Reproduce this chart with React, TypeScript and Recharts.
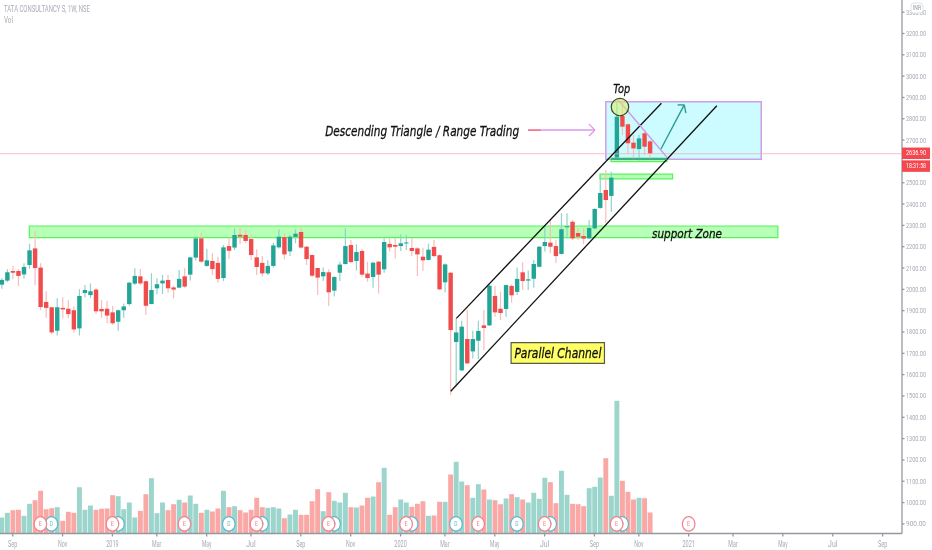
import React from "react";
import { ComposedChart, Bar, XAxis, YAxis, ReferenceArea, ReferenceLine, ReferenceDot } from "recharts";

const opens = [2022,2041,2086,2086,2070,2114,2192,2102,1941,1916,1806,1913,1909,1902,1817,1983,1973,1999,1908,1909,1892,1848,1902,1931,2027,2061,2038,1931,2005,2028,2044,2009,2008,2061,2069,2149,2239,2110,2133,2124,2053,2203,2196,2256,2255,2236,2150,2124,2075,2110,2197,2245,2178,2246,2269,2200,2161,2100,2061,2080,1994,2078,2119,2208,2133,2180,2074,2058,2130,2094,2213,2208,2203,2217,2194,2192,2153,2138,2199,2160,2033,2078,1753,1620,1767,1709,1759,1831,1831,1969,1909,1908,2016,1988,2080,2041,2050,2106,2203,2219,2203,2166,2291,2317,2264,2250,2239,2286,2382,2466,2438,2618,2813,2774,2688,2658,2732,2694];
const closes = [2044,2080,2078,2063,2105,2183,2100,1917,1913,1798,1916,1906,1884,1812,1969,1997,1991,1897,1897,1877,1841,1902,1920,2031,2063,2028,1923,1997,2024,2041,2005,1999,2049,2013,2150,2239,2130,2136,2095,2049,2197,2181,2255,2247,2227,2161,2105,2075,2110,2206,2247,2164,2247,2261,2196,2142,2064,2055,2081,1986,2058,2116,2203,2128,2175,2069,2053,2125,2069,2222,2197,2200,2216,2220,2180,2164,2136,2186,2156,2000,2117,1809,1798,1825,1653,1767,1805,1819,2017,1892,1889,2020,1972,2049,2039,2047,2119,2200,2222,2200,2156,2282,2296,2239,2247,2238,2288,2377,2452,2419,2524,2810,2763,2685,2661,2708,2669,2637];
const highs = [2052,2094,2110,2094,2122,2214,2274,2122,1991,1916,1958,1963,1950,1919,2000,2020,2028,2005,1950,1947,1922,1906,1934,2036,2099,2095,2041,2075,2052,2067,2067,2016,2091,2099,2153,2242,2266,2191,2169,2153,2208,2244,2286,2291,2278,2258,2188,2156,2138,2219,2282,2263,2255,2282,2291,2203,2164,2100,2103,2094,2061,2130,2286,2231,2211,2188,2130,2130,2133,2239,2239,2239,2258,2255,2239,2197,2195,2214,2231,2165,2122,2083,1864,1853,1906,1806,1853,1903,2023,2016,1989,2023,2023,2102,2127,2088,2138,2203,2302,2325,2231,2357,2357,2325,2286,2286,2325,2380,2536,2560,2552,2888,2888,2779,2724,2724,2747,2700];
const lows = [2003,2034,2047,2016,2050,2097,2019,1902,1867,1791,1784,1864,1864,1797,1784,1963,1958,1884,1867,1841,1834,1806,1867,1923,2020,2020,1880,1930,1977,1978,1984,1958,2005,2008,2041,2135,2125,2106,2067,2031,2039,2142,2185,2213,2216,2138,2067,2059,2067,2103,2192,2141,2156,2216,2192,2114,2055,1974,2039,1922,1966,2039,2117,2122,2088,2059,2036,2008,1981,2078,2177,2145,2180,2185,2156,2063,2086,2135,2150,1997,1986,1504,1547,1617,1650,1676,1673,1716,1828,1872,1856,1872,1937,1973,1997,1997,2008,2103,2177,2169,2122,2163,2239,2231,2231,2213,2235,2281,2378,2310,2364,2618,2724,2635,2607,2603,2630,2607];
const volumes = [1.6,2.07,2.33,2.37,1.77,2.97,3.33,4.27,2.43,2.53,2.63,1.27,2.17,2.07,4.63,2.37,2.8,2.37,2.47,2.5,3.83,3.73,2.43,3.1,1.6,2.27,3.93,5.53,2.03,3.1,2.33,2.93,3.37,3.1,3.8,2.97,2.07,2.37,2.2,2.5,4.27,2.63,2.73,2.33,2.1,2.37,3.57,2.63,2.57,2.63,2.5,1.53,1.9,2.37,1.87,1.87,3.23,4.43,2.23,4.13,3.27,3.1,4.07,2.63,2.6,2.8,3.57,3.7,5.13,6.57,1.87,2.63,3.4,3.1,2.67,2.97,3.23,1.77,1.8,3.17,3.17,5.9,7.17,5.2,4.83,3.57,4.93,4.4,3.4,3.33,2.93,3.5,3.93,3.63,3.4,3.1,4.07,3.47,5.57,5.13,3.03,6.27,3.87,2.97,2.93,2.73,4.53,4.67,5.6,7.53,3.77,13.27,5.27,4.17,3.4,3.57,3.53,2.1];

const timeTicks = [2,11,20,28,37,45,54,63,72,80,89,98,107,115,124,132,141,150,159];
const timeLabels = ["Sep","Nov","2019","Mar","May","Jul","Sep","Nov","2020","Mar","May","Jul","Sep","Nov","2021","Mar","May","Jul","Sep"];
const priceTicks = [900,1000,1100,1200,1300,1400,1500,1600,1700,1800,1900,2000,2100,2200,2300,2400,2500,2700,2800,2900,3000,3100,3200,3300];
const earnings = [7,20,33,46,59,73,86,98,111,124];
const dividends = [9,21,41,47,60,74,82,93,99,112];
const lastPrice = 2636.9;

const table = opens.map((o, i) => ({
  i, o, c: closes[i], h: highs[i], l: lows[i], range: [lows[i], highs[i]], v: volumes[i],
}));

const TEAL = "#22a595";
const RED = "#f04c4c";
const GREY = "#a6a9b3";
const AXIS = "#9598a1";
const SANS = "Roboto,sans-serif";
const NOTE = "'DejaVu Sans',sans-serif";

const Candle = (p: any) => {
  const { x, y, width, height, payload } = p;
  const d = payload;
  const up = d.c >= d.o;
  const k = Math.abs(height) / Math.max(1, d.h - d.l);
  const top = y + (d.h - Math.max(d.o, d.c)) * k;
  const bot = y + (d.h - Math.min(d.o, d.c)) * k;
  const mid = x + width / 2;
  return (
    <g>
      <line x1={mid} x2={mid} y1={y} y2={y + Math.abs(height)} stroke={up ? "#8fd3ca" : "#f9bcbc"} strokeWidth={1.2} />
      <rect x={mid - 2.2} y={top} width={4.4} height={Math.max(1, bot - top)} fill={up ? TEAL : RED} />
    </g>
  );
};

const VolumeBar = (p: any) => {
  const { x, y, width, height, payload } = p;
  return <rect x={x + width / 2 - 2.45} y={y} width={4.9} height={height} fill={payload.c >= payload.o ? "#9bd5cc" : "#f9a8a6"} />;
};

const PriceTick = (p: any) => (
  <text x={p.x} y={p.y} dominantBaseline="central" fontFamily={SANS} fontSize={7.4} fill={GREY} textLength={20} lengthAdjust="spacingAndGlyphs">
    {p.payload.value.toFixed(2)}
  </text>
);

const TimeTick = (p: any) => {
  const label = timeLabels[timeTicks.indexOf(p.payload.value)];
  return (
    <text x={p.x} y={p.y + 5} textAnchor="middle" dominantBaseline="central" fontFamily={SANS} fontSize={8.5} fill={GREY}
      textLength={label.length * 3.1} lengthAdjust="spacingAndGlyphs">
      {label}
    </text>
  );
};

const Note = (w: number, size: number, text: string, weight = 500) => (p: any) => (
  <text x={p.cx} y={p.cy} textAnchor="middle" dominantBaseline="central" fontFamily={NOTE} fontStyle="italic"
    fontWeight={weight} fontSize={size} fill="#111" stroke="#111" strokeWidth={0.3} textLength={w} lengthAdjust="spacingAndGlyphs">
    {text}
  </text>
);

const Marker = (letter: string, color: string) => (p: any) => (
  <g>
    <ellipse cx={p.cx} cy={p.cy} rx={6.3} ry={7.2} fill="#fff" stroke={color} strokeWidth={1.2} />
    <text x={p.cx} y={p.cy} textAnchor="middle" dominantBaseline="central" fontSize={7} fontFamily={SANS} fill={color} textLength={3.2} lengthAdjust="spacingAndGlyphs">{letter}</text>
  </g>
);

const PriceTag = (label: string, dy: number, h: number) => (p: any) => (
  <g>
    <rect x={p.cx} y={p.cy + dy} width={28} height={h} fill="#f4474f" />
    <text x={p.cx + 14} y={p.cy + dy + h / 2} textAnchor="middle" dominantBaseline="central" fontSize={7} fontFamily={SANS} fill="#fff"
      textLength={20} lengthAdjust="spacingAndGlyphs">{label}</text>
  </g>
);

const segs: [number, number, number, number, string, number][] = [
  [82.08, 1864, 119.08, 2873, "#111", 1.3],
  [81.06, 1522, 129.08, 2861, "#111", 1.3],
  [111.3, 2888, 120.1, 2619, "#cf9ae6", 1.5],
  [110, 2611, 120.1, 2611, "#2a9d8f", 1.5],
  [119, 2658, 123.2, 2865, "#2a9d8f", 1.4],
  [122, 2865, 123.2, 2865, "#2a9d8f", 1.4],
  [123.5, 2826, 123.2, 2865, "#2a9d8f", 1.4],
  [95, 2747, 97.4, 2747, "#f0507a", 1.4],
  [97.4, 2747, 107.1, 2747, "#d99aee", 1.6],
  [106, 2775, 107.1, 2747, "#e58be0", 1.2],
  [106, 2719, 107.1, 2747, "#e58be0", 1.2],
];

const zones: [number, number, number, number][] = [
  [5, 140.1, 2243, 2297],
  [108, 121.1, 2518, 2540],
  [110, 120.1, 2599, 2616],
];

export default function App() {
  const lastX = 162.5;
  return (
    <div style={{ position: "absolute", left: 0, top: 0, width: 932, height: 550, background: "#fff", overflow: "hidden", filter: "blur(0.3px)" }}>
      <ComposedChart width={932} height={550} data={table} margin={{ top: 0, right: 0, bottom: 0, left: 0 }}>
        <XAxis xAxisId={0} type="number" dataKey="i" scale="linear" domain={[-0.29, lastX]} allowDataOverflow
          ticks={timeTicks} interval={0} height={16.5} tickSize={3}
          stroke={AXIS} strokeWidth={1.3} tick={TimeTick} />
        <XAxis xAxisId="c" hide type="number" dataKey="i" scale="linear" domain={[-0.29, lastX]} allowDataOverflow />
        <YAxis yAxisId={0} orientation="right" type="number" domain={[855, 3357]} allowDataOverflow ticks={priceTicks} interval={0}
          width={30} tickSize={2.5} tickMargin={1.5}
          stroke={AXIS} strokeWidth={1.3} tick={PriceTick} />
        <YAxis yAxisId="vol" hide domain={[0, 53.35]} allowDataOverflow />

        <Bar xAxisId={0} yAxisId="vol" dataKey="v" barSize={4} isAnimationActive={false} shape={VolumeBar} />

        <ReferenceLine xAxisId={0} yAxisId={0} segment={[{ x: -0.29, y: lastPrice }, { x: lastX, y: lastPrice }]} stroke="#ff9fb5" strokeOpacity={0.55} strokeWidth={1.2} />
        <ReferenceArea xAxisId={0} yAxisId={0} x1={109.05} x2={137.1} y1={2610} y2={2880} fill="#00f0ff" fillOpacity={0.2} stroke="#cf9ee8" strokeWidth={1.5} />

        <Bar xAxisId="c" yAxisId={0} dataKey="range" barSize={4} isAnimationActive={false} shape={Candle} />

        {zones.map((z, k) => (
          <ReferenceArea key={k} xAxisId={0} yAxisId={0} x1={z[0]} x2={z[1]} y1={z[2]} y2={z[3]} fill="#00ff00" fillOpacity={0.28} stroke="#55f55a" strokeWidth={1.2} />
        ))}
        {segs.map((s, k) => (
          <ReferenceLine key={k} xAxisId={0} yAxisId={0} segment={[{ x: s[0], y: s[1] }, { x: s[2], y: s[3] }]} stroke={s[4]} strokeWidth={s[5]} />
        ))}
        <ReferenceDot xAxisId={0} yAxisId={0} x={111.6} y={2855} r={8.7} fill="#d9ee6a" fillOpacity={0.55} stroke="#44441e" strokeWidth={1.2} />
        <ReferenceArea xAxisId={0} yAxisId={0} x1={91.95} x2={108.8} y1={1653} y2={1750} fill="#ffff66" fillOpacity={1} stroke="#5a5a4a" strokeWidth={1.2} />

        {dividends.map((d) => (
          <ReferenceDot key={"d" + d} xAxisId={0} yAxisId={0} x={d} y={900} shape={Marker("D", "#5cb8cc")} />
        ))}
        {earnings.map((e) => (
          <ReferenceDot key={"e" + e} xAxisId={0} yAxisId={0} x={e} y={900} shape={Marker("E", "#f4818a")} />
        ))}

        <ReferenceDot xAxisId={0} yAxisId={0} x={75.9} y={2743} shape={Note(194, 14, "Descending Triangle / Range Trading")} />
        <ReferenceDot xAxisId={0} yAxisId={0} x={111.9} y={2940} shape={Note(17, 12, "Top", 400)} />
        <ReferenceDot xAxisId={0} yAxisId={0} x={123.7} y={2264} shape={Note(70, 13, "support Zone")} />
        <ReferenceDot xAxisId={0} yAxisId={0} x={100.4} y={1701} shape={Note(87, 13.5, "Parallel Channel")} />

        <ReferenceDot xAxisId={0} yAxisId={0} x={lastX} y={lastPrice} ifOverflow="visible" shape={PriceTag("2636.90", -6, 11.5)} />
        <ReferenceDot xAxisId={0} yAxisId={0} x={lastX} y={lastPrice} ifOverflow="visible" shape={PriceTag("18:31:58", 6.8, 11.5)} />
      </ComposedChart>

      <svg width={140} height={26} style={{ position: "absolute", left: 0, top: 0 }}>
        <text x={4} y={12} fontFamily={SANS} fontSize={8.5} fill="#a9acb5" textLength={86} lengthAdjust="spacingAndGlyphs">TATA CONSULTANCY S, 1W, NSE</text>
        <text x={4} y={23} fontFamily={SANS} fontSize={8.5} fill="#a9acb5" textLength={9} lengthAdjust="spacingAndGlyphs">Vol</text>
      </svg>
      <svg width={16} height={14} style={{ position: "absolute", left: 909, top: 2 }}>
        <rect x={2} y={1} width={12} height={10} rx={3} fill="#fff" stroke="#e0e3eb" />
        <text x={8} y={6} textAnchor="middle" dominantBaseline="central" fontFamily={SANS} fontSize={6.5} fill="#9598a1" textLength={8} lengthAdjust="spacingAndGlyphs">INR</text>
      </svg>
    </div>
  );
}
